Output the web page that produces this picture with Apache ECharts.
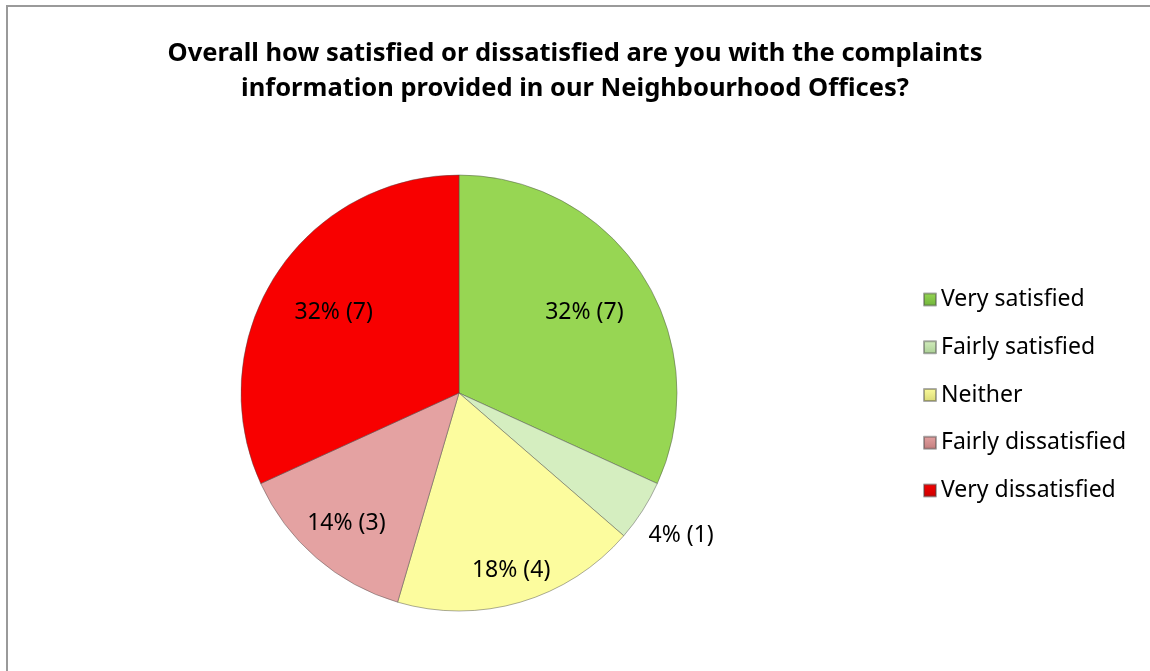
<!DOCTYPE html>
<html>
<head>
<meta charset="utf-8">
<script src="https://cdn.jsdelivr.net/npm/echarts@6/dist/echarts.min.js"></script>
<style>
html,body{margin:0;padding:0;background:#fff;}
#chart{width:1150px;height:671px;}
</style>
</head>
<body>
<div id="chart"></div>
<script>
var titleText = 'Overall how satisfied or dissatisfied are you with the complaints\ninformation provided in our Neighbourhood Offices?';
var categories = ['Very satisfied', 'Fairly satisfied', 'Neither', 'Fairly dissatisfied', 'Very dissatisfied'];
var counts = [7, 1, 4, 3, 7];
var percentLabels = [32, 4, 18, 14, 32];
var colors = ['#97d653', '#d5eec0', '#fcfc9e', '#e4a2a2', '#f80000'];
var darkColors = ['#6fb43a', '#a9cf93', '#d8d874', '#c27c7c', '#c80000'];

var chart = echarts.init(document.getElementById('chart'));
var FONT = 'Noto Sans';
var cx = 459, cy = 393, R = 218;

// hidden label rings: which categories use each ring, and the ring's radius
var labelRings = [
  { items: [0, 4], radius: 292 },
  { items: [3], radius: 338 },
  { items: [2], radius: 364 },
  { items: [1], radius: 522 }
];

var mainData = categories.map(function (c, i) {
  return { name: c, value: counts[i], itemStyle: { color: colors[i] } };
});

var series = [{
  type: 'pie',
  center: [cx, cy],
  radius: [0, R],
  startAngle: 90,
  clockwise: true,
  label: { show: false },
  labelLine: { show: false },
  itemStyle: { borderColor: 'rgba(70,70,70,0.45)', borderWidth: 1 },
  silent: true,
  data: mainData
}];

labelRings.forEach(function (ring) {
  series.push({
    type: 'pie',
    center: [cx, cy],
    radius: [0, ring.radius],
    startAngle: 90,
    clockwise: true,
    silent: true,
    itemStyle: { color: 'rgba(0,0,0,0)', borderWidth: 0 },
    label: { show: true, position: 'inside', fontFamily: FONT, fontSize: 23, color: '#000' },
    labelLine: { show: false },
    data: categories.map(function (c, i) {
      return {
        name: c, value: counts[i],
        label: { show: ring.items.indexOf(i) >= 0, formatter: percentLabels[i] + '% (' + counts[i] + ')' }
      };
    })
  });
});

var option = {
  backgroundColor: '#fff',
  animation: false,
  title: {
    text: titleText,
    left: 'center',
    top: 31,
    textStyle: { fontFamily: FONT, fontWeight: 'bold', fontSize: 25.5, lineHeight: 35, color: '#000' }
  },
  legend: {
    orient: 'vertical',
    left: 918,
    top: 283,
    icon: 'rect',
    itemWidth: 12,
    itemHeight: 12,
    itemGap: 24.75,
    data: categories.map(function (c, i) {
      return { name: c, itemStyle: { color: { type: 'linear', x: 0, y: 0, x2: 0, y2: 1, colorStops: [{ offset: 0, color: colors[i] }, { offset: 1, color: darkColors[i] }] } } };
    }),
    textStyle: { fontFamily: FONT, fontSize: 23, color: '#000' },
    selectedMode: false
  },
  graphic: [{
    type: 'rect',
    shape: { x: 7, y: 6, width: 1200, height: 700 },
    style: { fill: 'none', stroke: '#9a9a9a', lineWidth: 2 },
    silent: true
  }],
  series: series
};
chart.setOption(option);
</script>
</body>
</html>
